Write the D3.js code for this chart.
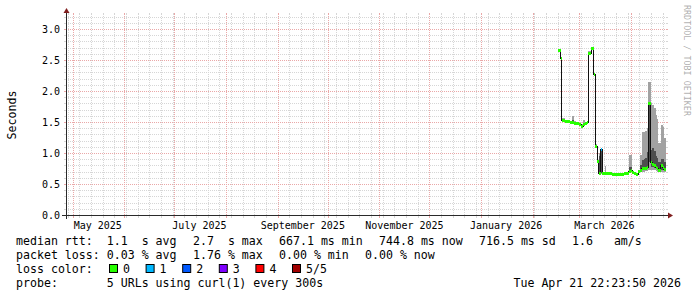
<!DOCTYPE html>
<html>
<head>
<meta charset="utf-8">
<script src="https://cdn.jsdelivr.net/npm/d3@7"></script>
<style>
  html, body { margin: 0; padding: 0; background: #fff; }
  svg text { font-family: "DejaVu Sans Mono", monospace; white-space: pre; }
</style>
</head>
<body>
<svg id="chart" width="697" height="297"></svg>
<script>
// each entry holds until the next one (rrd step data)
const times = [
  '2026-02-16T04:00', '2026-02-17T16:00', '2026-02-18T06:00', '2026-02-20T09:00', '2026-02-23T09:00',
  '2026-02-24T13:00', '2026-02-25T18:00', '2026-02-26T23:00', '2026-02-28T18:00', '2026-03-01T23:00',
  '2026-03-03T04:00', '2026-03-04T09:00', '2026-03-05T06:00', '2026-03-06T04:00', '2026-03-07T23:00',
  '2026-03-09T11:00', '2026-03-10T09:00', '2026-03-11T13:00', '2026-03-12T14:00', '2026-03-13T16:00',
  '2026-03-14T13:00', '2026-03-16T01:00', '2026-03-16T23:00', '2026-03-20T13:00', '2026-03-27T18:00',
  '2026-03-29T13:00', '2026-03-30T11:00', '2026-03-31T23:00', '2026-04-01T13:00', '2026-04-02T18:00',
  '2026-04-03T23:00', '2026-04-05T04:00', '2026-04-06T09:00', '2026-04-07T09:00', '2026-04-08T11:00',
  '2026-04-09T09:00', '2026-04-10T09:00', '2026-04-11T04:00', '2026-04-12T16:00', '2026-04-13T13:00',
  '2026-04-14T18:00', '2026-04-15T16:00', '2026-04-16T13:00', '2026-04-17T08:00', '2026-04-18T16:00',
  '2026-04-19T21:00', '2026-04-20T11:00'
];
const endTime = '2026-04-21T22:23:50';
const spanDays = 360;

const median = [2.66, 2.53, 1.54, 1.52, 1.50, 1.50, 1.49, 1.48, 1.46, 1.44,
  1.46, 1.48, 1.50, 2.62, 2.69, 2.27, 1.12, 0.87, 0.67, 1.06,
  0.67, 0.67, 0.67, 0.66, 0.67, 0.68, 0.71, 0.72, 0.69, 0.68,
  0.66, 0.71, 0.73, 0.75, 0.76, 0.76, 0.77, 1.81, 0.86, 0.83,
  0.80, 0.78, 0.76, 0.73, 0.81, 0.78, 0.74];
const loss = [0, 0, 0, 0, 0, 0, 0, 0, 0, 0, 0, 0, 0, 0, 0, 0, 0, 0, 0, 1,
  0, 0, 0, 0, 0, 0, 0, 0, 0, 0, 0, 0, 0, 0, 0, 0, 0, 0, 0, 0,
  0, 0, 0, 0, 0, 0, 0];
// sorted pings: p1 lowest .. p5 highest (p3 = median)
const p5 = [2.68, 2.55, 1.56, 1.54, 1.52, 1.60, 1.51, 1.50, 1.48, 1.46,
  1.53, 1.50, 1.52, 2.64, 2.71, 2.29, 1.14, 0.89, 1.00, 1.08,
  0.69, 0.79, 0.69, 0.68, 0.69, 0.70, 0.97, 0.97, 0.71, 0.70,
  0.68, 0.73, 0.97, 1.34, 1.34, 1.36, 1.40, 2.15, 1.80, 1.77,
  1.72, 1.62, 1.55, 1.16, 1.45, 1.42, 1.24];
const p4 = [2.67, 2.54, 1.55, 1.53, 1.51, 1.53, 1.50, 1.49, 1.47, 1.45,
  1.47, 1.49, 1.51, 2.63, 2.70, 2.28, 1.13, 0.88, 0.95, 1.07,
  0.68, 0.70, 0.68, 0.67, 0.68, 0.69, 0.78, 0.78, 0.70, 0.69,
  0.67, 0.72, 0.80, 0.88, 0.90, 0.92, 1.02, 1.83, 1.05, 1.08,
  1.03, 0.95, 0.92, 0.85, 0.90, 0.90, 0.85];
const p2 = [2.65, 2.52, 1.53, 1.51, 1.49, 1.49, 1.48, 1.47, 1.45, 1.43,
  1.45, 1.47, 1.49, 2.61, 2.68, 2.26, 1.11, 0.86, 0.66, 0.67,
  0.66, 0.66, 0.66, 0.65, 0.66, 0.67, 0.70, 0.71, 0.68, 0.67,
  0.65, 0.70, 0.71, 0.72, 0.73, 0.73, 0.74, 0.85, 0.78, 0.77,
  0.76, 0.74, 0.73, 0.71, 0.73, 0.73, 0.71];
const p1 = [2.64, 2.51, 1.52, 1.50, 1.48, 1.48, 1.47, 1.46, 1.44, 1.42,
  1.44, 1.46, 1.48, 2.60, 2.67, 2.25, 1.10, 0.85, 0.65, 0.66,
  0.65, 0.65, 0.65, 0.64, 0.65, 0.66, 0.69, 0.70, 0.67, 0.66,
  0.64, 0.69, 0.70, 0.70, 0.70, 0.71, 0.71, 0.72, 0.73, 0.73,
  0.72, 0.71, 0.70, 0.70, 0.69, 0.70, 0.69];

const yMax = 3.2258;
const yMinorStep = 0.1;
const yMajorEvery = 5;
const yUnit = 'Seconds';

const lossColors = ['#26ff00', '#00b8ff', '#0059ff', '#7e00ff', '#ff0000', '#a10000'];
const lossLabels = ['0', '1', '2', '3', '4', '5/5'];

const rttLegend = ['median rtt:  1.1  s avg', '2.7  s max', '667.1 ms min', '744.8 ms now', '716.5 ms sd', '1.6   am/s'];
const lossLegend = ['packet loss: 0.03 % avg', '1.76 % max', '0.00 % min', '0.00 % now'];
const lossColorTitle = 'loss color:';
const probeLine = 'probe:       5 URLs using curl(1) every 300s';
const stampLine = 'Tue Apr 21 22:23:50 2026';
const watermark = 'RRDTOOL / TOBI OETIKER';

// ---------------------------------------------------------------
const svg = d3.select('#chart');
const X0 = 66, X1 = 666, Y0 = 215, Y1 = 15;
const charW = 7;

const parse = d3.timeParse('%Y-%m-%dT%H:%M');
const end = d3.timeParse('%Y-%m-%dT%H:%M:%S')(endTime);
const start = new Date(end.getTime() - spanDays * 864e5);

const x = d3.scaleTime().domain([start, end]).range([X0, X1]);
const y = d3.scaleLinear().domain([0, yMax]).range([Y0, Y1]);

const data = times.map((t, i) => ({
  t: parse(t), m: median[i], loss: loss[i],
  p1: p1[i], p2: p2[i], p4: p4[i], p5: p5[i]
}));
const stepData = data.concat([Object.assign({}, data[data.length - 1], { t: end })]);

const minorCol = '#d6d6d6';
const majorCol = '#eaa8a8';

// grid
const grid = svg.append('g');
function hLine (py, col) {
  grid.append('line').attr('x1', X0 - 2).attr('x2', X1 + 2).attr('y1', py).attr('y2', py)
    .attr('stroke', col).attr('stroke-dasharray', '1,1');
  grid.append('line').attr('x1', X0 - 2).attr('x2', X0).attr('y1', py).attr('y2', py).attr('stroke', col);
  grid.append('line').attr('x1', X1).attr('x2', X1 + 2).attr('y1', py).attr('y2', py).attr('stroke', col);
}
function vLine (px, col) {
  grid.append('line').attr('x1', px).attr('x2', px).attr('y1', Y0 + 2).attr('y2', Y1 - 2)
    .attr('stroke', col).attr('stroke-dasharray', '1,1');
  grid.append('line').attr('x1', px).attr('x2', px).attr('y1', Y0).attr('y2', Y0 + 3).attr('stroke', col);
  grid.append('line').attr('x1', px).attr('x2', px).attr('y1', Y1 - 2).attr('y2', Y1).attr('stroke', col);
}

const yCount = Math.floor(yMax / yMinorStep + 1e-6);
for (let i = 1; i <= yCount; i++) {
  if (i % yMajorEvery !== 0) hLine(Math.round(y(i * yMinorStep)) + 0.5, minorCol);
}
d3.timeMonday.range(start, end).forEach(t => vLine(Math.round(x(t)) + 0.5, minorCol));
const months = d3.timeMonth.range(start, end);
months.forEach(t => vLine(Math.round(x(t)) + 0.5, majorCol));
const yMajors = [];
for (let i = 0; i <= yCount; i += yMajorEvery) yMajors.push(i * yMinorStep);
yMajors.forEach(v => hLine(Math.round(y(v)) + 0.5, majorCol));

// smoke
const plot = svg.append('g').attr('shape-rendering', 'crispEdges');
const band = (lo, hi) => d3.area().curve(d3.curveStepAfter)
  .x(d => x(d.t)).y0(d => y(d[lo])).y1(d => y(d[hi]));
plot.append('path').datum(stepData).attr('d', band('p1', 'p5')).attr('fill', '#a2a2a2');
plot.append('path').datum(stepData).attr('d', band('p2', 'p4')).attr('fill', '#4e4e4e');

// median line + loss coloured band
plot.append('path').datum(stepData)
  .attr('d', d3.line().curve(d3.curveStepAfter).x(d => x(d.t)).y(d => Math.round(y(d.m)) + 0.5))
  .attr('fill', 'none').attr('stroke', '#101010').attr('stroke-width', 1);
plot.selectAll('rect.med').data(data).enter().append('rect')
  .attr('class', 'med')
  .attr('x', d => x(d.t))
  .attr('width', (d, i) => x(stepData[i + 1].t) - x(d.t))
  .attr('y', d => Math.round(y(d.m)) - 1)
  .attr('height', 3)
  .attr('fill', d => lossColors[d.loss]);

// axes
const axisCol = '#2a2a2a', arrowCol = '#801f1f';
svg.append('line').attr('x1', X0 - 4).attr('x2', X1 + 4).attr('y1', Y0 + 0.5).attr('y2', Y0 + 0.5)
  .attr('stroke', axisCol);
svg.append('line').attr('x1', X0 + 0.5).attr('x2', X0 + 0.5).attr('y1', Y0 + 4).attr('y2', Y1 - 4)
  .attr('stroke', axisCol);
svg.append('path').attr('d', `M${X1 + 2},${Y0 - 2.5}L${X1 + 2},${Y0 + 3.5}L${X1 + 7},${Y0 + 0.5}Z`).attr('fill', arrowCol);
svg.append('path').attr('d', `M${X0 - 2.5},${Y1 - 2}L${X0 + 3.5},${Y1 - 2}L${X0 + 0.5},${Y1 - 7}Z`).attr('fill', arrowCol);

// y labels
svg.append('g').selectAll('text').data(yMajors).enter().append('text')
  .attr('x', 60).attr('y', v => Math.round(y(v)) + 4)
  .attr('text-anchor', 'end').attr('font-size', 10).attr('fill', '#000')
  .text(v => d3.format('.1f')(v));

// x labels (every second month, centred mid-month)
const fmtMonth = d3.timeFormat('%B %Y');
svg.append('g').selectAll('text').data(months.filter(t => t.getMonth() % 2 === 0)).enter().append('text')
  .attr('x', t => x(d3.timeDay.offset(t, 15)))
  .attr('y', 229)
  .attr('text-anchor', 'middle').attr('font-size', 10).attr('fill', '#000')
  .text(t => fmtMonth(t));

// unit label
svg.append('text').attr('transform', `translate(16,${(Y0 + Y1) / 2}) rotate(-90)`)
  .attr('text-anchor', 'middle').attr('font-size', 11.6).attr('fill', '#000').text(yUnit);

// watermark
svg.append('text').attr('transform', 'translate(684,5) rotate(90)')
  .attr('font-size', 8.4).attr('fill', '#000').attr('fill-opacity', 0.35).text(watermark);

// legend
const lg = svg.append('g').attr('font-size', 11.6).attr('fill', '#000');
function row (items, yy) {
  let cx = 16;
  items.forEach(s => {
    lg.append('text').attr('x', cx).attr('y', yy).text(s);
    cx += s.length * charW + 16;
  });
}
row(rttLegend, 245);
row(lossLegend, 259);

lg.append('text').attr('x', 16).attr('y', 273).text(lossColorTitle);
let bx = 16 + lossColorTitle.length * charW + 16;
lossLabels.forEach((lab, i) => {
  lg.append('rect').attr('x', bx + 0.5).attr('y', 264.5).attr('width', 8).attr('height', 8)
    .attr('fill', lossColors[i]).attr('stroke', '#000').attr('stroke-width', 1);
  lg.append('text').attr('x', bx + 14).attr('y', 273).text(lab);
  bx += 14 + lab.length * charW + 15.6;
});

lg.append('text').attr('x', 16).attr('y', 287).text(probeLine);
lg.append('text').attr('x', 681).attr('y', 287).attr('text-anchor', 'end').text(stampLine);
</script>
</body>
</html>
